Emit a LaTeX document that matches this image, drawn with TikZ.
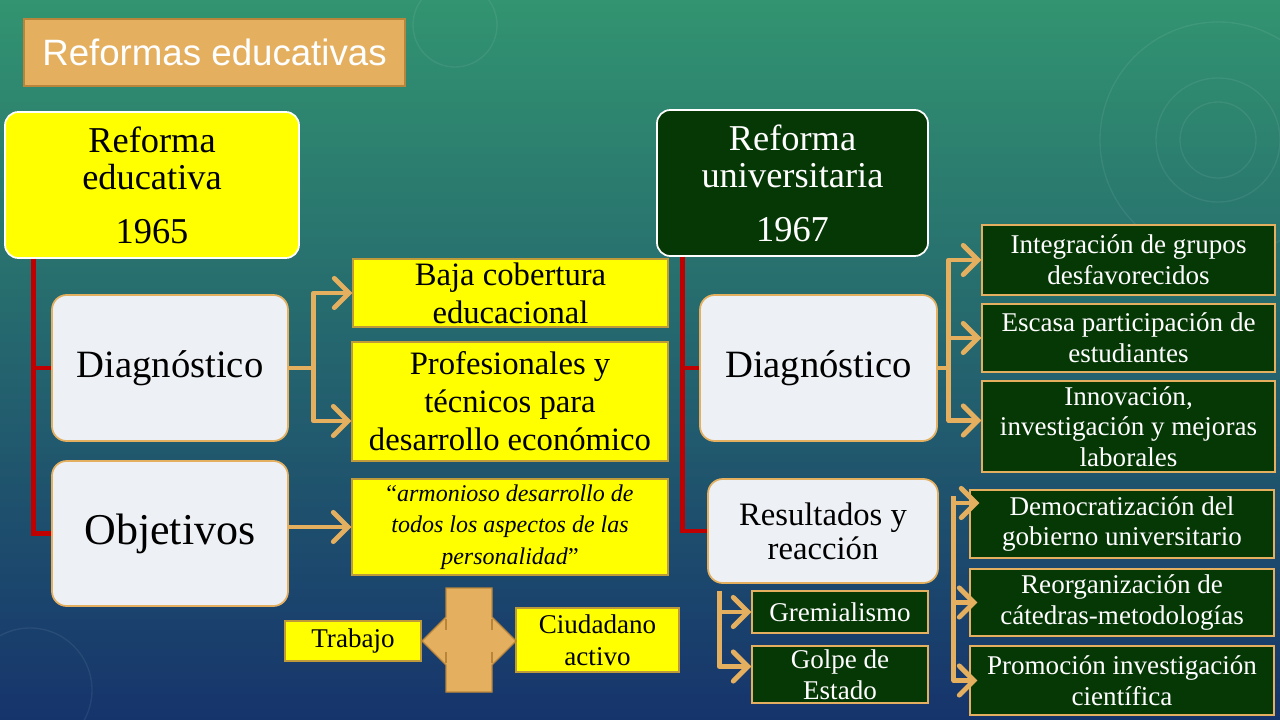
\documentclass[tikz,border=0pt]{standalone}
\usepackage{fontspec}
\setmainfont{Liberation Serif}
\newfontfamily\titlefont{Liberation Sans}
\usetikzlibrary{arrows.meta,calc}
\definecolor{yel}{HTML}{FFFF00}
\definecolor{ybord}{HTML}{BE9A3A}
\definecolor{tanc}{HTML}{E4B060}
\definecolor{tandark}{HTML}{B9853A}
\definecolor{dgreen}{HTML}{063806}
\definecolor{lgray}{HTML}{EDF0F4}
\definecolor{redc}{HTML}{C00000}
\definecolor{bgtop}{RGB}{50,148,112}
\definecolor{bgmid}{RGB}{34,108,128}
\definecolor{bgbot}{RGB}{22,52,108}
\newcommand{\fs}[2]{\fontsize{#1}{#2}\selectfont}
\tikzset{
  every node/.style={inner sep=0pt, align=center},
  wh/.style 2 args={minimum width=#1*0.75pt, minimum height=#2*0.75pt},
  titlebox/.style={fill=tanc, draw=tandark, line width=1pt, text=white},
  topy/.style={fill=yel, draw=white, line width=1.3pt, rounded corners=10pt, text=black},
  topg/.style={fill=dgreen, draw=white, line width=1.3pt, rounded corners=10pt, text=white},
  lbox/.style={fill=lgray, draw=tanc, line width=1.3pt, rounded corners=11pt, text=black},
  ybox/.style={fill=yel, draw=ybord, line width=1pt, text=black},
  gbox/.style={fill=dgreen, draw=tanc, line width=1.1pt, text=white, font=\fs{20.3}{23}},
  redline/.style={draw=redc, line width=3.7pt},
  tanarr/.style={draw=tanc, line width=3.6pt, line join=round, -{Straight Barb[length=11pt,width=22pt,line cap=round]}},
}
\begin{document}
\begin{tikzpicture}[x=0.75pt,y=-0.75pt]
% background
\shade[top color=bgtop, middle color=bgmid, bottom color=bgbot] (0,0) rectangle (1280,720);
\useasboundingbox (0,0) rectangle (1280,720);
% faint decorations
\begin{scope}[draw=white, draw opacity=0.07, line width=1pt]
  \draw (1218,140) circle (38);
  \draw (1218,140) circle (62);
  \draw (1218,140) circle (118);
  \draw (455,25) circle (42);
  \draw (30,690) circle (62);
\end{scope}
% title
\node[titlebox, wh={381}{67}, font=\titlefont\fs{27.5}{33}] (title) at (214.5,52.5) {Reformas educativas};
% left tree
\node[topy, wh={294}{146}, font=\fs{27.3}{27.75}] (re65) at (152,185) {Reforma\\educativa\\[12.75pt]1965};
\node[lbox, wh={236}{146}, font=\fs{29}{34}] (diagL) at (170,368) {Diagnóstico};
\node[lbox, wh={236}{145}, font=\fs{33}{40}] (objL) at (170,533.5) {Objetivos};
\node[ybox, wh={315}{68}, font=\fs{24.5}{28.5}] (baja) at (510.5,293) {Baja cobertura\\educacional};
\node[ybox, wh={316}{119}, font=\fs{24.5}{28.5}] (prof) at (510,401.5) {Profesionales y\\técnicos para\\desarrollo económico};
\node[ybox, wh={316}{96}, font=\fs{18}{23.5}] (armon) at (510,527) {“\textit{armonioso desarrollo de}\\\textit{todos los aspectos de las}\\\textit{personalidad}”};
\node[ybox, wh={136}{40}, font=\fs{20.3}{24}] (trab) at (353,641) {Trabajo};
\node[ybox, wh={163}{64}, font=\fs{20.3}{24}] (ciud) at (597.5,640) {Ciudadano\\activo};
% cross shape
\filldraw[fill=tanc, draw=tandark, line width=0.9pt] (446,588) -- (492,588) -- (492,617) -- (516,641) -- (492,665) -- (492,692) -- (446,692) -- (446,665) -- (422,641) -- (446,617) -- cycle;
\draw[tandark, line width=0.8pt] (446,619)--(446,630) (492,619)--(492,630) (446,652)--(446,663) (492,652)--(492,663);
% right tree
\node[topg, wh={271}{146}, font=\fs{27.3}{27.75}] (re67) at (792.5,183) {Reforma\\universitaria\\[12.75pt]1967};
\node[lbox, wh={237}{146}, font=\fs{29}{34}] (diagR) at (818.5,368) {Diagnóstico};
\node[lbox, wh={230}{104}, font=\fs{24.5}{25.5}] (resR) at (823,531) {Resultados y\\reacción};
\node[gbox, wh={176}{42}] (grem) at (840,612) {Gremialismo};
\node[gbox, wh={176}{57}] (golpe) at (840,674.5) {Golpe de\\Estado};
\node[gbox, wh={293}{70}] (integ) at (1128.5,260) {Integración de grupos\\desfavorecidos};
\node[gbox, wh={293}{68}] (escasa) at (1128.5,338) {Escasa participación de\\estudiantes};
\node[gbox, wh={293}{91}] (innov) at (1128.5,426.5) {Innovación,\\investigación y mejoras\\laborales};
\node[gbox, wh={304}{68}] (democ) at (1122,524) {Democratización del\\gobierno universitario};
\node[gbox, wh={304}{67}] (reorg) at (1122,602.5) {Reorganización de\\cátedras-metodologías};
\node[gbox, wh={304}{69}] (promo) at (1122,680.5) {Promoción investigación\\científica};
% red connectors
\draw[redline] ($(re65.south west)+(29,0)$) |- (diagL.west);
\draw[redline] ($(re65.south west)+(29,0)$) |- (objL.west);
\draw[redline] ($(re67.south west)+(26,0)$) |- (diagR.west);
\draw[redline] ($(re67.south west)+(26,0)$) |- (resR.west);
% tan connectors left
\draw[tanarr] (diagL.east) -- ++(25,0) |- (baja.west);
\draw[tanarr] (diagL.east) -- ++(25,0) |- ($(prof.west)+(0,19.5)$);
\draw[tanarr] (objL.east |- armon.west) -- (armon.west);
% tan connectors right
\draw[tanarr] (diagR.east) -- ++(11,0) |- (integ.west);
\draw[tanarr] (diagR.east) -- ++(11,0) |- (escasa.west);
\draw[tanarr] (diagR.east) -- ++(11,0) |- ($(innov.west)+(0,-6)$);
\coordinate (rv) at ($(resR.north east)+(15,18)$);
\draw[tanarr] (rv) |- ($(democ.west)+(10,-21)$);
\draw[tanarr] (rv) |- ($(reorg.west)+(8,0)$);
\draw[tanarr] (rv) |- ($(promo.west)+(8,0)$);
\draw[tanarr] ($(resR.south west)+(12,7)$) |- (grem.west);
\draw[tanarr] ($(resR.south west)+(12,7)$) |- ($(golpe.west)+(0,-8)$);
\end{tikzpicture}
\end{document}
